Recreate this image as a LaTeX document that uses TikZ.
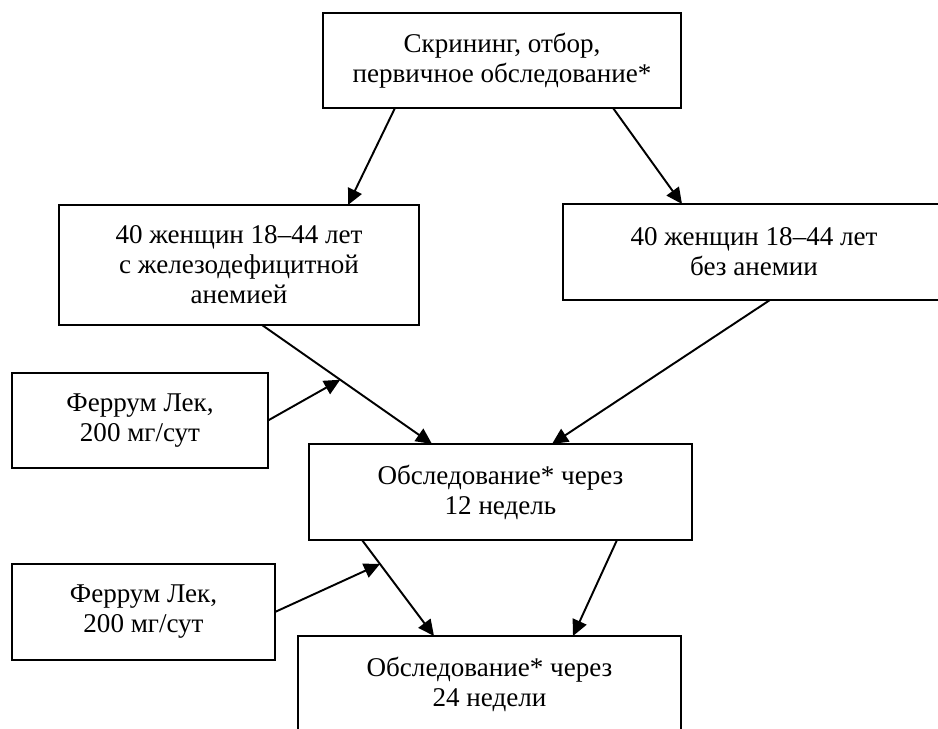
\documentclass[tikz,border=0pt]{standalone}
\usepackage{fontspec}
\setmainfont{Liberation Serif}
\usetikzlibrary{arrows.meta}
\begin{document}
\begin{tikzpicture}[
box/.style={draw, line width=1.1pt, inner sep=0pt, outer sep=0pt, align=center,
  font=\fontsize{15.4pt}{17.1pt}\selectfont},
arr/.style={line width=1.1pt, -{Triangle[length=0.32cm, width=0.3cm]}}]
\useasboundingbox (0,0) rectangle (18.76,14.58);
\node[box, minimum width=7.16cm, minimum height=1.9cm] (scr) at (10.04,13.37)
{Скрининг, отбор,\\первичное обследование*};
\node[box, minimum width=7.2cm, minimum height=2.4cm] (ida) at (4.78,9.28)
{40 женщин 18–44 лет\\с железодефицитной\\анемией};
\node[box, minimum width=7.64cm, minimum height=1.92cm] (noa) at (15.08,9.54)
{40 женщин 18–44 лет\\без анемии};
\node[box, minimum width=5.12cm, minimum height=1.9cm] (fer1) at (2.8,6.17)
{Феррум Лек,\\200 мг/сут};
\node[box, minimum width=7.66cm, minimum height=1.92cm] (w12) at (10.01,4.74)
{Обследование* через\\12 недель};
\node[box, minimum width=5.26cm, minimum height=1.92cm] (fer2) at (2.87,2.34)
{Феррум Лек,\\200 мг/сут};
\node[box, minimum width=7.66cm, minimum height=1.92cm] (w24) at (9.79,0.9)
{Обследование* через\\24 недели};
\draw[arr] ([xshift=1.44cm]scr.south west) -- ([xshift=-1.42cm]ida.north east);
\draw[arr] ([xshift=-1.36cm]scr.south east) -- ([xshift=2.38cm]noa.north west);
\draw[arr] ([xshift=4.06cm]ida.south west) -- ([xshift=2.46cm]w12.north west)
  coordinate[pos=0.46] (dose1);
\draw[arr] ([xshift=4.14cm]noa.south west) -- ([xshift=-2.8cm]w12.north east);
\draw[arr] (fer1.east) -- (dose1);
\draw[arr] ([xshift=1.06cm]w12.south west) -- ([xshift=2.72cm]w24.north west)
  coordinate[pos=0.25] (dose2);
\draw[arr] ([xshift=-1.5cm]w12.south east) -- ([xshift=-2.16cm]w24.north east);
\draw[arr] (fer2.east) -- (dose2);
\end{tikzpicture}
\end{document}
